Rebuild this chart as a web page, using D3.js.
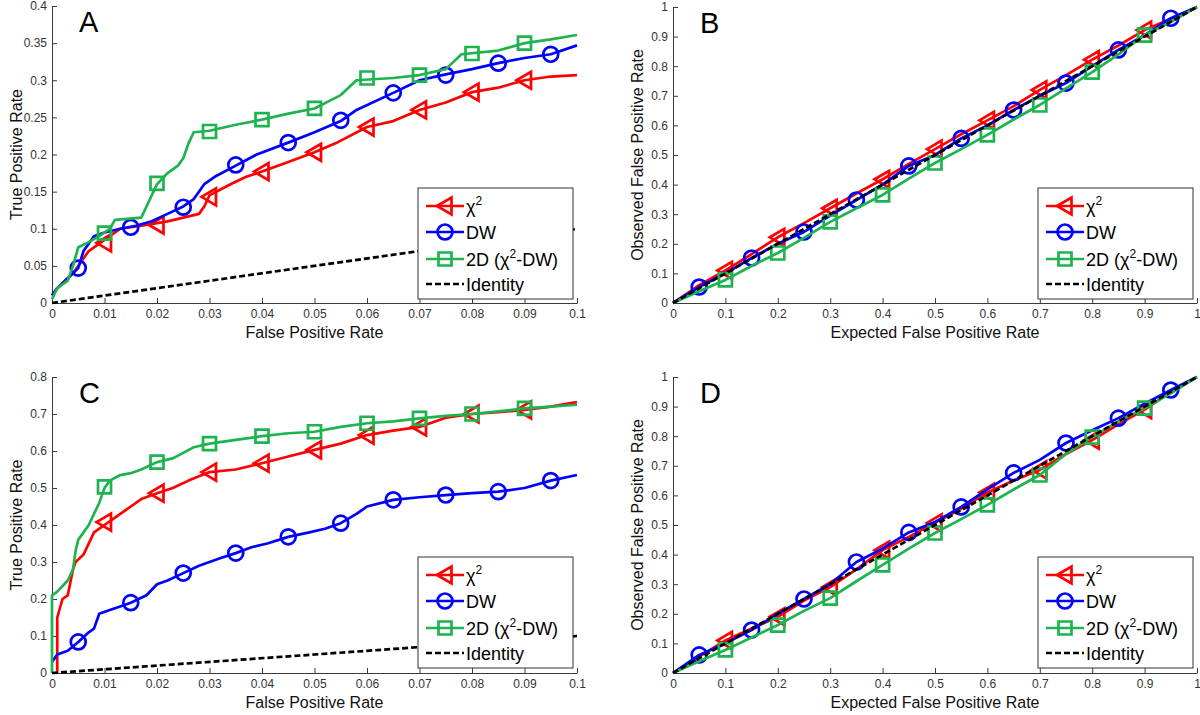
<!DOCTYPE html>
<html lang="en">
<head>
<meta charset="utf-8">
<title>ROC and calibration panels</title>
<script src="https://cdn.jsdelivr.net/npm/d3@7"></script>
<style>
  body { margin: 0; background: #fff; }
  svg { display: block; font-family: "Liberation Sans", Arial, sans-serif; }
</style>
</head>
<body>
<script>
// ---- panel A: ROC, low-power case ----
var aChi2 = [[0,0.01],[0.001,0.02],[0.004,0.04],[0.006,0.06],[0.007,0.07],[0.009,0.08],[0.011,0.09],[0.013,0.1],[0.018,0.105],[0.022,0.11],[0.025,0.115],[0.028,0.12],[0.029,0.13],[0.03,0.145],[0.034,0.16],[0.037,0.17],[0.04,0.177],[0.045,0.19],[0.05,0.203],[0.054,0.215],[0.06,0.237],[0.065,0.245],[0.07,0.26],[0.075,0.27],[0.08,0.284],[0.085,0.29],[0.09,0.3],[0.095,0.305],[0.1,0.307]];
var aChi2Mk = [[0.01,0.081],[0.02,0.105],[0.03,0.143],[0.04,0.177],[0.05,0.203],[0.06,0.237],[0.07,0.26],[0.08,0.284],[0.09,0.3]];
var aDW = [[0,0.01],[0.001,0.02],[0.004,0.04],[0.005,0.047],[0.006,0.07],[0.008,0.09],[0.01,0.095],[0.013,0.1],[0.016,0.104],[0.019,0.11],[0.022,0.12],[0.025,0.13],[0.027,0.14],[0.029,0.16],[0.031,0.17],[0.035,0.185],[0.039,0.2],[0.045,0.216],[0.05,0.23],[0.055,0.245],[0.058,0.26],[0.065,0.283],[0.07,0.3],[0.075,0.308],[0.08,0.315],[0.085,0.323],[0.09,0.33],[0.095,0.335],[0.1,0.347]];
var aDWMk = [[0.005,0.047],[0.015,0.102],[0.025,0.129],[0.035,0.186],[0.045,0.216],[0.055,0.246],[0.065,0.283],[0.075,0.307],[0.085,0.323],[0.095,0.335]];
var a2D = [[0,0.005],[0.001,0.02],[0.003,0.03],[0.004,0.05],[0.005,0.075],[0.007,0.082],[0.009,0.09],[0.011,0.1],[0.012,0.112],[0.017,0.115],[0.018,0.13],[0.02,0.16],[0.022,0.175],[0.024,0.185],[0.025,0.195],[0.026,0.215],[0.027,0.23],[0.03,0.232],[0.035,0.24],[0.04,0.247],[0.045,0.255],[0.05,0.262],[0.055,0.28],[0.058,0.3],[0.065,0.303],[0.07,0.307],[0.075,0.315],[0.078,0.335],[0.085,0.34],[0.09,0.35],[0.095,0.355],[0.1,0.361]];
var a2DMk = [[0.01,0.094],[0.02,0.161],[0.03,0.231],[0.04,0.247],[0.05,0.262],[0.06,0.303],[0.07,0.307],[0.08,0.336],[0.09,0.35]];

// ---- panel C: ROC, high-power case ----
var cChi2 = [[0.001,0],[0.001,0.15],[0.002,0.2],[0.003,0.21],[0.004,0.28],[0.0045,0.3],[0.006,0.32],[0.007,0.35],[0.008,0.38],[0.01,0.4],[0.012,0.42],[0.015,0.45],[0.017,0.47],[0.02,0.486],[0.023,0.5],[0.026,0.52],[0.03,0.543],[0.035,0.55],[0.04,0.567],[0.045,0.585],[0.05,0.603],[0.055,0.62],[0.06,0.643],[0.065,0.655],[0.07,0.665],[0.075,0.69],[0.08,0.7],[0.085,0.705],[0.09,0.711],[0.095,0.72],[0.1,0.732]];
var cChi2Mk = [[0.01,0.408],[0.02,0.486],[0.03,0.543],[0.04,0.567],[0.05,0.603],[0.06,0.643],[0.07,0.665],[0.08,0.7],[0.09,0.711]];
var cDW = [[0,0.03],[0.001,0.05],[0.003,0.06],[0.005,0.084],[0.007,0.11],[0.008,0.12],[0.009,0.16],[0.011,0.17],[0.013,0.18],[0.015,0.19],[0.018,0.21],[0.02,0.24],[0.022,0.25],[0.025,0.27],[0.028,0.29],[0.03,0.3],[0.032,0.31],[0.035,0.324],[0.038,0.34],[0.041,0.35],[0.045,0.368],[0.049,0.38],[0.052,0.39],[0.055,0.405],[0.058,0.43],[0.06,0.45],[0.065,0.468],[0.07,0.475],[0.075,0.481],[0.08,0.486],[0.085,0.49],[0.09,0.5],[0.095,0.52],[0.1,0.535]];
var cDWMk = [[0.005,0.084],[0.015,0.19],[0.025,0.27],[0.035,0.324],[0.045,0.368],[0.055,0.405],[0.065,0.468],[0.075,0.481],[0.085,0.49],[0.095,0.52]];
var c2D = [[0,0],[0,0.21],[0.001,0.22],[0.003,0.25],[0.004,0.28],[0.0045,0.33],[0.005,0.36],[0.006,0.38],[0.007,0.4],[0.008,0.43],[0.009,0.46],[0.0095,0.48],[0.01,0.5],[0.011,0.52],[0.013,0.535],[0.015,0.54],[0.017,0.55],[0.02,0.57],[0.023,0.58],[0.025,0.595],[0.027,0.61],[0.03,0.62],[0.035,0.63],[0.04,0.64],[0.045,0.648],[0.05,0.652],[0.055,0.665],[0.06,0.675],[0.065,0.68],[0.07,0.688],[0.075,0.695],[0.08,0.7],[0.085,0.707],[0.09,0.715],[0.095,0.72],[0.1,0.725]];
var c2DMk = [[0.01,0.503],[0.02,0.57],[0.03,0.62],[0.04,0.64],[0.05,0.652],[0.06,0.675],[0.07,0.688],[0.08,0.7],[0.09,0.715]];

// ---- panels B and D: expected vs observed false positive rate ----
var expX = [0,0.05,0.1,0.15,0.2,0.25,0.3,0.35,0.4,0.45,0.5,0.55,0.6,0.65,0.7,0.75,0.8,0.85,0.9,0.95,1];
var bChi2 = [0,0.06,0.11,0.165,0.222,0.27,0.32,0.37,0.418,0.47,0.52,0.57,0.617,0.665,0.72,0.77,0.822,0.87,0.922,0.96,1];
var bDW   = [0,0.054,0.1,0.152,0.2,0.24,0.295,0.348,0.4,0.463,0.5,0.556,0.6,0.652,0.7,0.743,0.8,0.855,0.905,0.962,1];
var b2D   = [0,0.04,0.078,0.125,0.169,0.22,0.274,0.32,0.365,0.42,0.473,0.52,0.568,0.62,0.669,0.725,0.78,0.84,0.905,0.95,1];
var dChi2 = [0,0.055,0.11,0.15,0.19,0.245,0.29,0.35,0.415,0.46,0.507,0.555,0.61,0.65,0.686,0.74,0.787,0.84,0.89,0.95,1];
var dDW   = [0,0.061,0.1,0.145,0.2,0.25,0.3,0.375,0.42,0.475,0.51,0.561,0.62,0.676,0.72,0.777,0.82,0.861,0.91,0.956,1];
var d2D   = [0,0.04,0.078,0.12,0.162,0.21,0.253,0.31,0.365,0.42,0.473,0.52,0.568,0.62,0.669,0.74,0.797,0.85,0.895,0.945,1];

// tick values
var rocXTicks = [0,0.01,0.02,0.03,0.04,0.05,0.06,0.07,0.08,0.09,0.1];
var aYTicks = [0,0.05,0.1,0.15,0.2,0.25,0.3,0.35,0.4];
var cYTicks = [0,0.1,0.2,0.3,0.4,0.5,0.6,0.7,0.8];
var unitTicks = [0,0.1,0.2,0.3,0.4,0.5,0.6,0.7,0.8,0.9,1];

var legendNames = ["χ2", "DW", "2D (χ2-DW)", "Identity"];

var RED = "#ff0000", BLUE = "#0000ff", GREEN = "#1db34f";

var svg = d3.select("body").append("svg")
  .attr("width", 1200)
  .attr("height", 715);

function zipXY(xs, ys) { return xs.map(function(x, i) { return [x, ys[i]]; }); }
// markers sit on every other sample point (skipping the end points)
function everyOther(pts, start) { return pts.filter(function(p, i) { return i % 2 === start && i > 0 && i < pts.length - 1; }); }

var markerPath = {
  tri: "M-8,0L6.5,-8.5L6.5,8.5Z",
  circ: d3.symbol().type(d3.symbolCircle).size(Math.PI * 56)(),
  sq: "M-6.5,-6.5H6.5V6.5H-6.5Z"
};

function drawPanel(p) {
  var x = d3.scaleLinear().domain(p.xd).range([p.left, p.right]);
  var y = d3.scaleLinear().domain(p.yd).range([p.bottom, p.top]);
  var g = svg.append("g");

  var fmt = d3.format("~g");
  var ax = g.append("g").attr("transform", "translate(0," + p.bottom + ")")
    .call(d3.axisBottom(x).tickValues(p.xt).tickSize(-5).tickSizeOuter(0).tickPadding(6).tickFormat(fmt));
  var ay = g.append("g").attr("transform", "translate(" + p.left + ",0)")
    .call(d3.axisLeft(y).tickValues(p.yt).tickSize(-5).tickSizeOuter(0).tickPadding(5).tickFormat(fmt));
  [ax, ay].forEach(function(a) {
    a.selectAll("path, line").attr("stroke", "#3a3a3a").attr("stroke-width", 1);
    a.selectAll("text").attr("font-size", 12).attr("fill", "#333")
      .attr("font-family", "Liberation Sans, Arial, sans-serif");
  });

  g.append("text").attr("x", (p.left + p.right) / 2).attr("y", p.bottom + 35)
    .attr("text-anchor", "middle").attr("font-size", 16).attr("fill", "#111").text(p.xlab);
  g.append("text").attr("transform", "translate(" + p.ylabX + "," + (p.top + p.bottom) / 2 + ") rotate(-90)")
    .attr("text-anchor", "middle").attr("font-size", 16).attr("fill", "#111").text(p.ylab);
  g.append("text").attr("x", p.left + 27).attr("y", p.top + 26)
    .attr("font-size", 29).attr("fill", "#000").text(p.letter);

  var line = d3.line().x(function(d) { return x(d[0]); }).y(function(d) { return y(d[1]); });

  p.series.forEach(function(s) {
    g.append("path").datum(s.pts).attr("d", line)
      .attr("fill", "none").attr("stroke", s.color).attr("stroke-width", 2.7)
      .attr("stroke-linejoin", "round");
    g.selectAll(null).data(s.marks).enter().append("path")
      .attr("d", markerPath[s.mk])
      .attr("transform", function(d) { return "translate(" + x(d[0]) + "," + y(d[1]) + ")"; })
      .attr("fill", "none").attr("stroke", s.color).attr("stroke-width", 2.7);
  });

  g.append("path").datum(p.identity).attr("d", line)
    .attr("fill", "none").attr("stroke", "#000").attr("stroke-width", 2.7)
    .attr("stroke-dasharray", "6,3");

  // legend
  var lg = g.append("g").attr("transform", "translate(" + p.legX + "," + p.legY + ")");
  lg.append("rect").attr("width", 155).attr("height", 111)
    .attr("fill", "#fff").attr("stroke", "#333").attr("stroke-width", 1);
  var rows = [
    {c: RED, mk: "tri", cy: 18}, {c: BLUE, mk: "circ", cy: 44},
    {c: GREEN, mk: "sq", cy: 71}, {c: "#000", mk: null, cy: 96}
  ];
  rows.forEach(function(r, i) {
    var l = lg.append("line").attr("x1", 8).attr("x2", 46).attr("y1", r.cy).attr("y2", r.cy)
      .attr("stroke", r.c).attr("stroke-width", 2.7);
    if (r.mk) {
      lg.append("path").attr("d", markerPath[r.mk]).attr("transform", "translate(27," + r.cy + ")")
        .attr("fill", "none").attr("stroke", r.c).attr("stroke-width", 2.7);
    } else {
      l.attr("stroke-dasharray", "6,3");
    }
    var t = lg.append("text").attr("x", 48).attr("y", r.cy + 7).attr("font-size", 18).attr("fill", "#000");
    if (legendNames[i].indexOf("χ2") >= 0) {
      var segs = legendNames[i].split("χ2");
      t.append("tspan").text(segs[0] + "χ");
      t.append("tspan").attr("dy", -8).attr("font-size", 12).text("2");
      t.append("tspan").attr("dy", 8).text(segs[1]);
    } else {
      t.text(legendNames[i]);
    }
  });
}

var rocA = {
  left: 52, right: 577, top: 6, bottom: 303,
  xd: [0, 0.1], yd: [0, 0.4], xt: rocXTicks, yt: aYTicks,
  xlab: "False Positive Rate", ylab: "True Positive Rate", ylabX: 22, letter: "A",
  legX: 418, legY: 188, identity: [[0, 0], [0.1, 0.1]],
  series: [
    {pts: aChi2, marks: aChi2Mk, color: RED, mk: "tri"},
    {pts: aDW, marks: aDWMk, color: BLUE, mk: "circ"},
    {pts: a2D, marks: a2DMk, color: GREEN, mk: "sq"}
  ]
};
var calB = {
  left: 673, right: 1197, top: 7, bottom: 303,
  xd: [0, 1], yd: [0, 1], xt: unitTicks, yt: unitTicks,
  xlab: "Expected False Positive Rate", ylab: "Observed False Positive Rate", ylabX: 643, letter: "B",
  legX: 1038, legY: 188, identity: [[0, 0], [1, 1]],
  series: [
    {pts: zipXY(expX, bChi2), marks: everyOther(zipXY(expX, bChi2), 0), color: RED, mk: "tri"},
    {pts: zipXY(expX, bDW), marks: everyOther(zipXY(expX, bDW), 1), color: BLUE, mk: "circ"},
    {pts: zipXY(expX, b2D), marks: everyOther(zipXY(expX, b2D), 0), color: GREEN, mk: "sq"}
  ]
};
var rocC = {
  left: 52, right: 577, top: 377, bottom: 673,
  xd: [0, 0.1], yd: [0, 0.8], xt: rocXTicks, yt: cYTicks,
  xlab: "False Positive Rate", ylab: "True Positive Rate", ylabX: 22, letter: "C",
  legX: 418, legY: 557, identity: [[0, 0], [0.1, 0.1]],
  series: [
    {pts: cChi2, marks: cChi2Mk, color: RED, mk: "tri"},
    {pts: cDW, marks: cDWMk, color: BLUE, mk: "circ"},
    {pts: c2D, marks: c2DMk, color: GREEN, mk: "sq"}
  ]
};
var calD = {
  left: 673, right: 1197, top: 377, bottom: 673,
  xd: [0, 1], yd: [0, 1], xt: unitTicks, yt: unitTicks,
  xlab: "Expected False Positive Rate", ylab: "Observed False Positive Rate", ylabX: 643, letter: "D",
  legX: 1038, legY: 557, identity: [[0, 0], [1, 1]],
  series: [
    {pts: zipXY(expX, dChi2), marks: everyOther(zipXY(expX, dChi2), 0), color: RED, mk: "tri"},
    {pts: zipXY(expX, dDW), marks: everyOther(zipXY(expX, dDW), 1), color: BLUE, mk: "circ"},
    {pts: zipXY(expX, d2D), marks: everyOther(zipXY(expX, d2D), 0), color: GREEN, mk: "sq"}
  ]
};

[rocA, calB, rocC, calD].forEach(drawPanel);
</script>
</body>
</html>
